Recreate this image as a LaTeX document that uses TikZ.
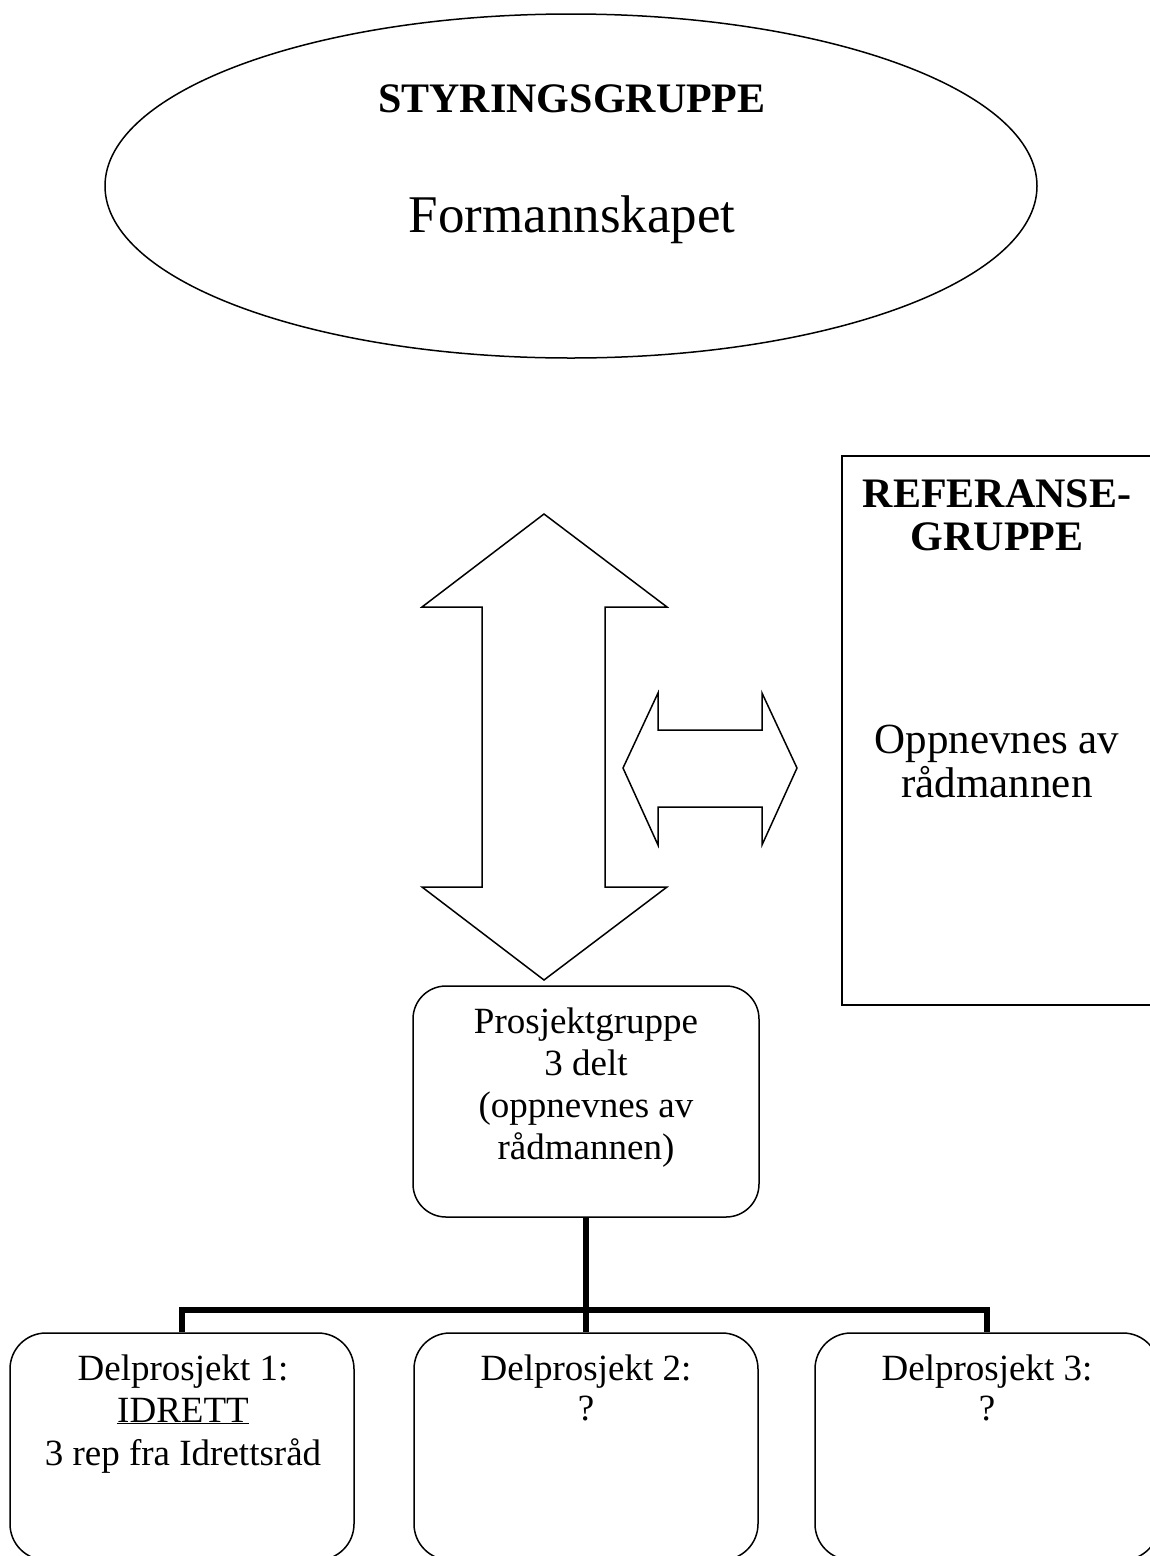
\documentclass[tikz,border=0pt]{standalone}
\usepackage{fontspec}
\setmainfont{Liberation Serif}
\usetikzlibrary{shapes.geometric}
\begin{document}
\begin{tikzpicture}[x=1pt,y=-1pt,
  outl/.style={draw=black, line width=1.5pt},
  conn/.style={draw=black, line width=6pt, line join=miter},
  rbox/.style={outl, rectangle, rounded corners=36pt, minimum width=344pt, minimum height=227pt, inner sep=0pt},
  txt/.style={anchor=base, inner sep=0pt},
  bigbold/.style={font=\fontsize{42}{43}\selectfont\bfseries},
  huge53/.style={font=\fontsize{53}{60}\selectfont},
  mid43/.style={font=\fontsize{43}{44}\selectfont},
  body37/.style={font=\fontsize{37}{43}\selectfont}
]
\clip (0,0) rectangle (1150,1556);
\fill[white] (0,0) rectangle (1150,1556);

% Styringsgruppe ellipse
\node[ellipse, outl, minimum width=932pt, minimum height=344pt, inner sep=0pt] (styr) at (571,186) {};
\node[txt, bigbold] (styrA) at (572,112) {STYRINGSGRUPPE};
\node[txt, huge53] (styrB) at (572,232) {Formannskapet};

% vertical double arrow
\draw[outl, line join=miter] (544,514) -- (667,607) -- (605,607) -- (605,887) -- (667,887)
  -- (544,980) -- (422,887) -- (482,887) -- (482,607) -- (422,607) -- cycle;

% horizontal double arrow
\draw[outl, line join=miter] (623,768) -- (658,693) -- (658,730) -- (762,730) -- (762,693)
  -- (797,768) -- (762,845) -- (762,807) -- (658,807) -- (658,845) -- cycle;

% Referansegruppe
\node[outl, rectangle, inner sep=0pt, anchor=north west, minimum width=330pt, minimum height=549pt] (ref) at (841,455) {};
\node[txt, bigbold] (refA) at (997,507) {REFERANSE-};
\node[txt, bigbold] (refB) at (997,550) {GRUPPE};
\node[txt, mid43] (refC) at (997,753) {Oppnevnes av};
\node[txt, mid43] (refD) at (997,797) {rådmannen};

% Prosjektgruppe
\node[rbox, minimum width=346pt, minimum height=231pt, rounded corners=33pt] (pg) at (586,1101.5) {};
\node[txt, body37] (pgA) at (586,1033) {Prosjektgruppe};
\node[txt, body37] (pgB) at (586,1075) {3 delt};
\node[txt, body37] (pgC) at (586,1117) {(oppnevnes av};
\node[txt, body37] (pgD) at (586,1159) {rådmannen)};

% Delprosjekter
\node[rbox] (d1) at (182,1446.5) {};
\node[rbox] (d2) at (586,1446.5) {};
\node[rbox] (d3) at (987,1446.5) {};

\node[txt, body37] (d1A) at (183,1380) {Delprosjekt 1:};
\node[txt, body37] (d1B) at (183,1422) {\underline{IDRETT}};
\node[txt, body37] (d1C) at (183,1465) {3 rep fra Idrettsråd};
\node[txt, body37] (d2A) at (586,1380) {Delprosjekt 2:};
\node[txt, body37] (d2B) at (586,1420) {?};
\node[txt, body37] (d3A) at (987,1380) {Delprosjekt 3:};
\node[txt, body37] (d3B) at (987,1420) {?};

% connectors
\draw[conn] (pg.south) -- (d2.north);
\draw[conn] (d1.north) -- ++(0,-22) coordinate (barL) -| (d3.north);
\end{tikzpicture}
\end{document}
